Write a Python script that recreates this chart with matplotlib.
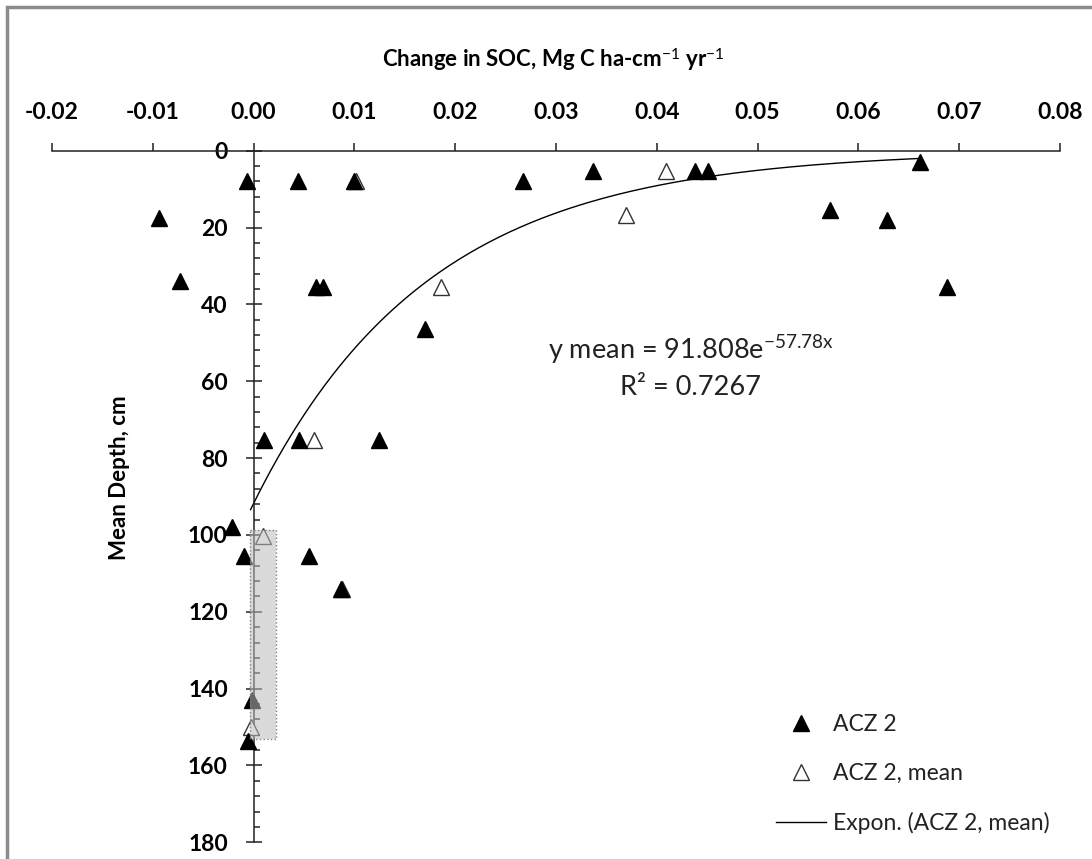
#!/usr/bin/env python

import numpy             as np
import matplotlib
matplotlib.use('Agg')
import matplotlib.pyplot as plt
from   matplotlib.patches import Rectangle
from   matplotlib.lines   import Line2D
from   matplotlib.ticker  import MultipleLocator, FixedLocator

# ACZ 2 - single observations
acz_x    = [-0.0007, 0.0044, 0.0100, 0.0267, 0.0337, 0.0438, 0.0451, 0.0661,
            -0.0094, 0.0572, 0.0628, -0.0073, 0.0062, 0.0069, 0.0688, 0.0170,
             0.0010, 0.0045, 0.0124, -0.0021, -0.0010, 0.0055, 0.0087,
            -0.0002, -0.0006]
acz_y    = [8.0, 8.0, 8.0, 8.0, 5.4, 5.4, 5.4, 3.0,
            17.6, 15.4, 18.0, 34.0, 35.4, 35.4, 35.4, 46.5,
            75.4, 75.4, 75.4, 98.0, 105.6, 105.6, 114.1,
            142.9, 153.7]

# ACZ 2 - means per depth
mean_x   = [0.0409, 0.0102, 0.0369, 0.0186, 0.0060, 0.0009, 0.0088, -0.0003]
mean_y   = [5.4, 8.0, 16.7, 35.4, 75.4, 100.4, 114.1, 150.0]

# exponential fit on the means
fit_a    = 91.808
fit_b    = -57.78
fit_r2   = 0.7267
fit_xlim = [-0.0003, 0.0661]

# highlighted depth band
band_x   = [-0.0004, 0.0022]
band_y   = [98.8, 153.0]

xticks   = [-0.02, -0.01, 0.00, 0.01, 0.02, 0.03, 0.04, 0.05, 0.06, 0.07, 0.08]
yticks   = [0, 20, 40, 60, 80, 100, 120, 140, 160, 180]


# ------------------------------------------------------------------------------
#
def main():

    plt.rcParams['font.family']      = ['Lato', 'DejaVu Sans']
    plt.rcParams['mathtext.fontset'] = 'custom'
    plt.rcParams['mathtext.rm']      = 'Lato'
    plt.rcParams['mathtext.it']      = 'Lato:italic'
    plt.rcParams['mathtext.bf']      = 'Lato:bold'

    W, H = 1092, 859
    fig  = plt.figure(figsize=(W / 100., H / 100.), dpi=100)
    ax   = fig.add_axes([52. / W, 1 - 842.3 / H, 1008. / W, (842.3 - 150.7) / H])

    ax.set_xlim(-0.02, 0.08)
    ax.set_ylim(180, 0)

    # axes: x on top, y crossing at x = 0
    ax.spines['bottom'].set_visible(False)
    ax.spines['right' ].set_visible(False)
    ax.spines['left'  ].set_position(('data', 0))
    for sp in ['top', 'left']:
        ax.spines[sp].set_linewidth(1.1)
        ax.spines[sp].set_color('#222222')

    ax.xaxis.tick_top()
    ax.xaxis.set_major_locator(FixedLocator(xticks))
    ax.set_xticklabels(['%.2f' % v for v in xticks])
    ax.tick_params(axis='x', which='major', direction='out', length=6,
                   width=1.1, pad=14, labelsize=16.5, color='#222222')

    ax.yaxis.set_major_locator(FixedLocator(yticks))
    ax.yaxis.set_minor_locator(MultipleLocator(4))
    ax.tick_params(axis='y', which='major', direction='inout', length=11,
                   width=1.1, pad=13, labelsize=16.5, color='#222222')
    ax.tick_params(axis='y', which='minor', direction='in', length=4.5,
                   width=1.1, color='#222222')
    for lab in ax.get_xticklabels() + ax.get_yticklabels():
        lab.set_fontweight('bold')

    # data
    ax.plot(mean_x, mean_y, linestyle='none', marker='^', markersize=11,
            markerfacecolor='white', markeredgecolor='#333333',
            markeredgewidth=1.0, zorder=3)
    ax.plot(acz_x, acz_y, linestyle='none', marker='^', markersize=11,
            markerfacecolor='black', markeredgecolor='black', zorder=4)

    fx = np.linspace(fit_xlim[0], fit_xlim[1], 200)
    ax.plot(fx, fit_a * np.exp(fit_b * fx), color='black', lw=1.0, zorder=2)

    # shaded band
    ax.add_patch(Rectangle((band_x[0], band_y[0]), band_x[1] - band_x[0],
                           band_y[1] - band_y[0], facecolor='#bdbdbd',
                           alpha=0.55, edgecolor='none', zorder=5))
    ax.add_patch(Rectangle((band_x[0], band_y[0]), band_x[1] - band_x[0],
                           band_y[1] - band_y[0], fill=False,
                           edgecolor='#808080', lw=1.0, ls=':', zorder=6))

    # fit equation
    fig.text(691. / W, 1 - 350. / H,
             r'y mean = 91.808e$^{\mathrm{-57.78x}}$',
             ha='center', va='center', fontsize=19.5, color='#222222')
    fig.text(691. / W, 1 - 388. / H, 'R\u00b2 = %.4f' % fit_r2,
             ha='center', va='center', fontsize=19.5, color='#222222')

    # axis titles
    fig.text(553. / W, 1 - 60. / H,
             r'Change in SOC, Mg C ha-cm$^{\mathrm{-1}}$ yr$^{\mathrm{-1}}$',
             ha='center', va='center', fontsize=16, fontweight='bold')
    fig.text(120. / W, 1 - 478. / H, 'Mean Depth, cm', rotation=90,
             ha='center', va='center', fontsize=16, fontweight='bold')

    # legend
    handles = [Line2D([], [], ls='none', marker='^', ms=11, mfc='black',
                      mec='black'),
               Line2D([], [], ls='none', marker='^', ms=11, mfc='white',
                      mec='#333333', mew=1.0),
               Line2D([], [], color='black', lw=1.0)]
    labels  = ['ACZ 2', 'ACZ 2, mean', 'Expon. (ACZ 2, mean)']
    fig.legend(handles, labels, loc='upper left',
               bbox_to_anchor=(776. / W, 1 - 714. / H), frameon=False,
               fontsize=16.5, handlelength=2.2, handletextpad=0.3,
               labelspacing=1.22, borderpad=0, borderaxespad=0,
               labelcolor='#222222')

    # outer frame
    fig.patches.append(Rectangle((7. / W, -0.1), 1.2, 1.1 - 7. / H,
                                 transform=fig.transFigure, fill=False,
                                 edgecolor='#8c8c8c', lw=2.5))

    fig.savefig('out.png', dpi=100)


# ------------------------------------------------------------------------------
#
if __name__ == '__main__':

    main()

# ------------------------------------------------------------------------------
